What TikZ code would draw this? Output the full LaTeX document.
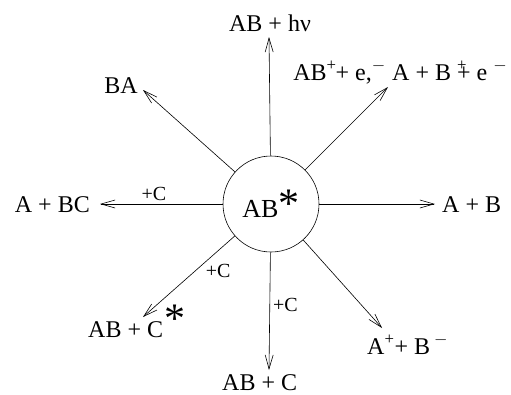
\documentclass[tikz,border=0pt]{standalone}
\usepackage{fontspec}
\setmainfont{Liberation Serif}
\usetikzlibrary{arrows.meta}
\newcommand{\bigast}{{\fontsize{42}{42}\selectfont *}}

\begin{document}
\begin{tikzpicture}[x=1pt, y=-1pt,
  lbl/.style={inner sep=0pt, font=\fontsize{24}{28}\selectfont},
  small/.style={inner sep=1pt, font=\fontsize{20}{24}\selectfont},
  arr/.style={-{Straight Barb[length=14pt, width=8pt]}, line width=0.6pt}]
  \useasboundingbox (0,0) rectangle (511,394);
  \node[circle, draw, line width=0.6pt, minimum size=96pt, inner sep=0pt,
        font=\fontsize{26}{30}\selectfont] (star) at (271,204) {AB\bigast};
  % products
  \node[lbl, anchor=base] (hv) at (270,31) {AB + hν};
  \node[lbl, anchor=base east] (ba) at (138,93) {BA};
  \node[lbl, anchor=base west] (ionB) at (392,80) {A + B \rlap{\textsuperscript{+}}+ e \textsuperscript{$-$}};
  \node[lbl, anchor=base east] (ionA) at (386,80) {AB\textsuperscript{+}\kern-1pt+ e,\textsuperscript{$-$}};
  \node[lbl, anchor=base west] (ab) at (442,212) {A + B};
  \node[lbl, anchor=base east] (abc) at (90,212) {A + BC};
  \node[lbl, anchor=base west] (abcs) at (88,337) {AB + C\kern1pt\raisebox{5pt}{\bigast}};
  \node[lbl, anchor=base west] (abpc) at (222,390) {AB + C};
  \node[lbl, anchor=base west] (ions) at (367,354) {A\textsuperscript{+}+ B\,\textsuperscript{$-$}};
  % arrow tips
  \coordinate (tHv) at (269,37);
  \coordinate (tBA) at (143,90);
  \coordinate (tIon) at (388,87);
  \coordinate (tAB) at (435,204);
  \coordinate (tABC) at (100,204);
  \coordinate (tABCs) at (143,317);
  \coordinate (tABpC) at (269,370);
  \coordinate (tIons) at (382,328);
  \draw[arr] (star) -- (tHv);
  \draw[arr] (star) -- (tBA);
  \draw[arr] (star) -- (tIon);
  \draw[arr] (star) -- (tAB);
  \draw[arr] (star) -- node[small, above=2pt, pos=0.56] (c1) {+C} (tABC);
  \draw[arr] (star) -- node[small, anchor=north west, pos=0.33] (c2) {+C} (tABCs);
  \draw[arr] (star) -- node[small, right=2pt, pos=0.45] (c3) {+C} (tABpC);
  \draw[arr] (star) -- (tIons);
\end{tikzpicture}
\end{document}
